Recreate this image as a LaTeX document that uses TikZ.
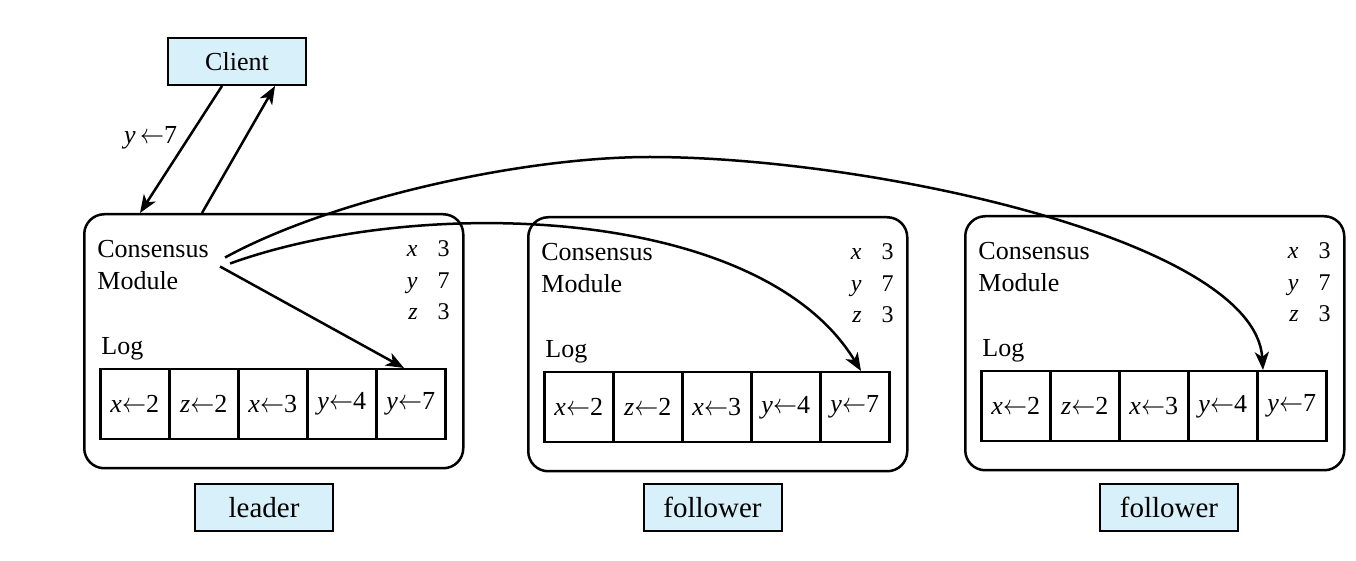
\documentclass[tikz,border=0pt]{standalone}
\usepackage{fontspec}
\setmainfont{Liberation Serif}
\usepackage{xcolor}
\usepackage{tikz}
\usetikzlibrary{arrows.meta,positioning}
\definecolor{tagblue}{HTML}{D8F0F9}
\tikzset{
    srv/.style={draw, line width=1.25pt, rounded corners=10pt, minimum width=189.5pt,
    minimum height=127pt, inner sep=0pt, anchor=north west},
    tag/.style={draw, line width=1pt, fill=tagblue, minimum width=69pt,
    minimum height=23.5pt, inner sep=0pt},
    cell/.style={draw, line width=1.25pt, minimum width=34.5pt, minimum height=35pt,
    inner sep=0pt, anchor=north west, font=\fontsize{13}{15}\selectfont},
    txt/.style={inner sep=0pt, font=\fontsize{13}{15}\selectfont},
    val/.style={inner sep=0pt, font=\fontsize{12}{14}\selectfont},
    arr/.style={line width=1.25pt, -{Stealth[length=9pt,width=7pt,inset=2.5pt]}}
}
\newcommand{\asgn}{\scalebox{1.2}[1.4]{\fontsize{10}{12}\selectfont$\leftarrow$}}
\newcommand{\srvnode}[3]{
    \pgfmathsetmacro{\x}{#2}
    \pgfmathsetmacro{\y}{#3}
    \node[srv] (#1) at (\x, \y) {};
    \node[txt, anchor=base west] (#1-cons) at (\x+14, \y+45) {Consensus};
    \node[txt, anchor=base west] (#1-mod) at (\x+14, \y+77) {Module};
    \node[txt, anchor=base west] (#1-log) at (\x+18, \y+142) {Log};
    \foreach \v/\n [count=\vi] in {x/3,y/7,z/3} {
        \node[val, anchor=base east] (#1-var\vi) at (\x+367, \y+12.5+\vi*31.5)
        {\textit{\v}\hspace{10pt}\n};
    }
    \foreach \v/\n [count=\ci] in {x/2,z/2,x/3,y/4,y/7} {
        \node[cell] (#1-c\ci) at (\x+16+\ci*69-69, \y+155) {\textit{\v}\asgn\n};
    }
}

\begin{document}
\begin{tikzpicture}[x=0.5pt,y=-0.5pt]
        \useasboundingbox (0,0) rectangle (1356,561);

        \node[tag, font=\fontsize{13}{15}\selectfont] (client) at (237,61.5) {Client};

        \srvnode{leader}{83}{213};
        \srvnode{fol1}{527}{216};
        \srvnode{fol2}{964}{215};

        \node[tag, font=\fontsize{14.5}{16}\selectfont] (leadertag) at (264,507.5) {leader};
        \node[tag, font=\fontsize{14.5}{16}\selectfont] (fol1tag) at (712.5,507) {follower};
        \node[tag, font=\fontsize{14.5}{16}\selectfont] (fol2tag) at (1169,507) {follower};

        \draw[arr] ([xshift=-7.5pt]client.south) -- node[txt, pos=0.41, left=5pt]
        {\textit{y}\,\asgn7} ([xshift=28.5pt]leader.north west);
        \draw[arr] ([xshift=59.5pt]leader.north west) -- ([xshift=19pt]client.south);

        \draw[arr] ([xshift=8pt,yshift=-4pt]leader-cons.east) .. controls (330,200) and
        (520,157) .. (650,157) .. controls (870,157) and (1255,240) ..
        ([xshift=3.5pt]fol2-c5.north west);
        \draw[arr] ([xshift=10.5pt,yshift=-7pt]leader-cons.east) .. controls (420,195) and
        (760,205) .. ([xshift=21pt]fol1-c5.north west);
        \draw[arr] ([xshift=5.5pt,yshift=-8.5pt]leader-cons.east) --
        ([xshift=14.5pt]leader-c5.north west);

\end{tikzpicture}
\end{document}
